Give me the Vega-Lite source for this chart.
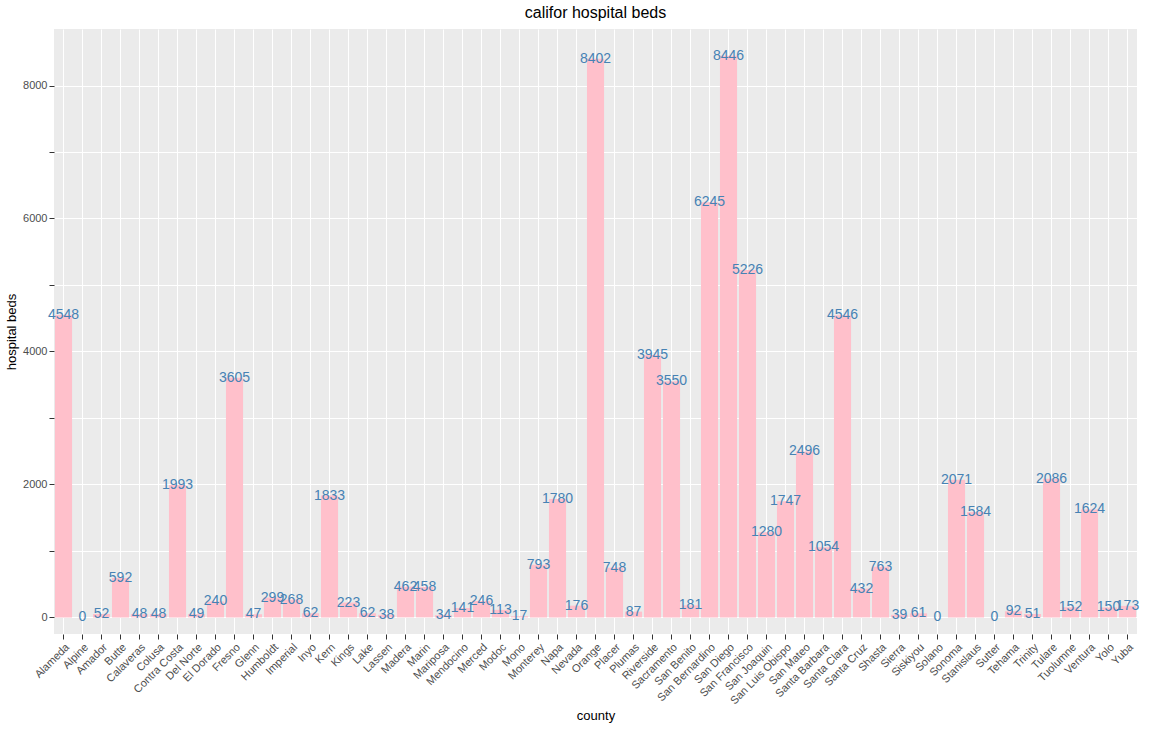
{
  "$schema": "https://vega.github.io/schema/vega-lite/v6.json",
  "width": 1083,
  "height": 605,
  "background": "white",
  "title": {"text": "califor hospital beds", "fontSize": 16, "font": "Liberation Sans", "fontWeight": "normal", "color": "black", "offset": 8},
  "data": {"values": [
    {"county": "Alameda", "beds": 4548}, {"county": "Alpine", "beds": 0}, {"county": "Amador", "beds": 52},
    {"county": "Butte", "beds": 592}, {"county": "Calaveras", "beds": 48}, {"county": "Colusa", "beds": 48},
    {"county": "Contra Costa", "beds": 1993}, {"county": "Del Norte", "beds": 49}, {"county": "El Dorado", "beds": 240},
    {"county": "Fresno", "beds": 3605}, {"county": "Glenn", "beds": 47}, {"county": "Humboldt", "beds": 299},
    {"county": "Imperial", "beds": 268}, {"county": "Inyo", "beds": 62}, {"county": "Kern", "beds": 1833},
    {"county": "Kings", "beds": 223}, {"county": "Lake", "beds": 62}, {"county": "Lassen", "beds": 38},
    {"county": "Madera", "beds": 462}, {"county": "Marin", "beds": 458}, {"county": "Mariposa", "beds": 34},
    {"county": "Mendocino", "beds": 141}, {"county": "Merced", "beds": 246}, {"county": "Modoc", "beds": 113},
    {"county": "Mono", "beds": 17}, {"county": "Monterey", "beds": 793}, {"county": "Napa", "beds": 1780},
    {"county": "Nevada", "beds": 176}, {"county": "Orange", "beds": 8402}, {"county": "Placer", "beds": 748},
    {"county": "Plumas", "beds": 87}, {"county": "Riverside", "beds": 3945}, {"county": "Sacramento", "beds": 3550},
    {"county": "San Benito", "beds": 181}, {"county": "San Bernardino", "beds": 6245}, {"county": "San Diego", "beds": 8446},
    {"county": "San Francisco", "beds": 5226}, {"county": "San Joaquin", "beds": 1280}, {"county": "San Luis Obispo", "beds": 1747},
    {"county": "San Mateo", "beds": 2496}, {"county": "Santa Barbara", "beds": 1054}, {"county": "Santa Clara", "beds": 4546},
    {"county": "Santa Cruz", "beds": 432}, {"county": "Shasta", "beds": 763}, {"county": "Sierra", "beds": 39},
    {"county": "Siskiyou", "beds": 61}, {"county": "Solano", "beds": 0}, {"county": "Sonoma", "beds": 2071},
    {"county": "Stanislaus", "beds": 1584}, {"county": "Sutter", "beds": 0}, {"county": "Tehama", "beds": 92},
    {"county": "Trinity", "beds": 51}, {"county": "Tulare", "beds": 2086}, {"county": "Tuolumne", "beds": 152},
    {"county": "Ventura", "beds": 1624}, {"county": "Yolo", "beds": 150}, {"county": "Yuba", "beds": 173}
  ]},
  "encoding": {
    "x": {
      "field": "county", "type": "nominal", "sort": null, "title": "county",
      "scale": {"paddingInner": 0.1, "paddingOuter": 0.05},
      "axis": {"labelAngle": -45, "labelAlign": "right", "labelBaseline": "top", "grid": true, "bandPosition": 0.5, "labelFontSize": 11}
    },
    "y": {
      "field": "beds", "type": "quantitative", "title": "hospital beds",
      "scale": {"domain": [-250, 8850], "nice": false, "zero": false},
      "axis": {
        "values": [0, 1000, 2000, 3000, 4000, 5000, 6000, 7000, 8000],
        "labelExpr": "datum.value % 2000 == 0 ? datum.label : ''",
        "format": "d", "labelFontSize": 11,
        "encode": {"ticks": {"update": {"opacity": {"signal": "datum.value % 2000 == 0 ? 1 : 0"}}}}
      }
    }
  },
  "layer": [
    {"mark": {"type": "bar", "color": "pink"}},
    {"mark": {"type": "text", "color": "steelblue", "fontSize": 14, "baseline": "middle", "font": "Liberation Sans"}, "encoding": {"text": {"field": "beds", "type": "quantitative"}}}
  ],
  "config": {
    "font": "Liberation Sans",
    "view": {"fill": "#EBEBEB", "stroke": null},
    "axis": {"gridColor": "white", "gridWidth": 1, "domain": false, "tickColor": "#333", "labelColor": "#4D4D4D", "titleFontWeight": "normal", "titleFontSize": 13, "titleColor": "black"}
  }
}
